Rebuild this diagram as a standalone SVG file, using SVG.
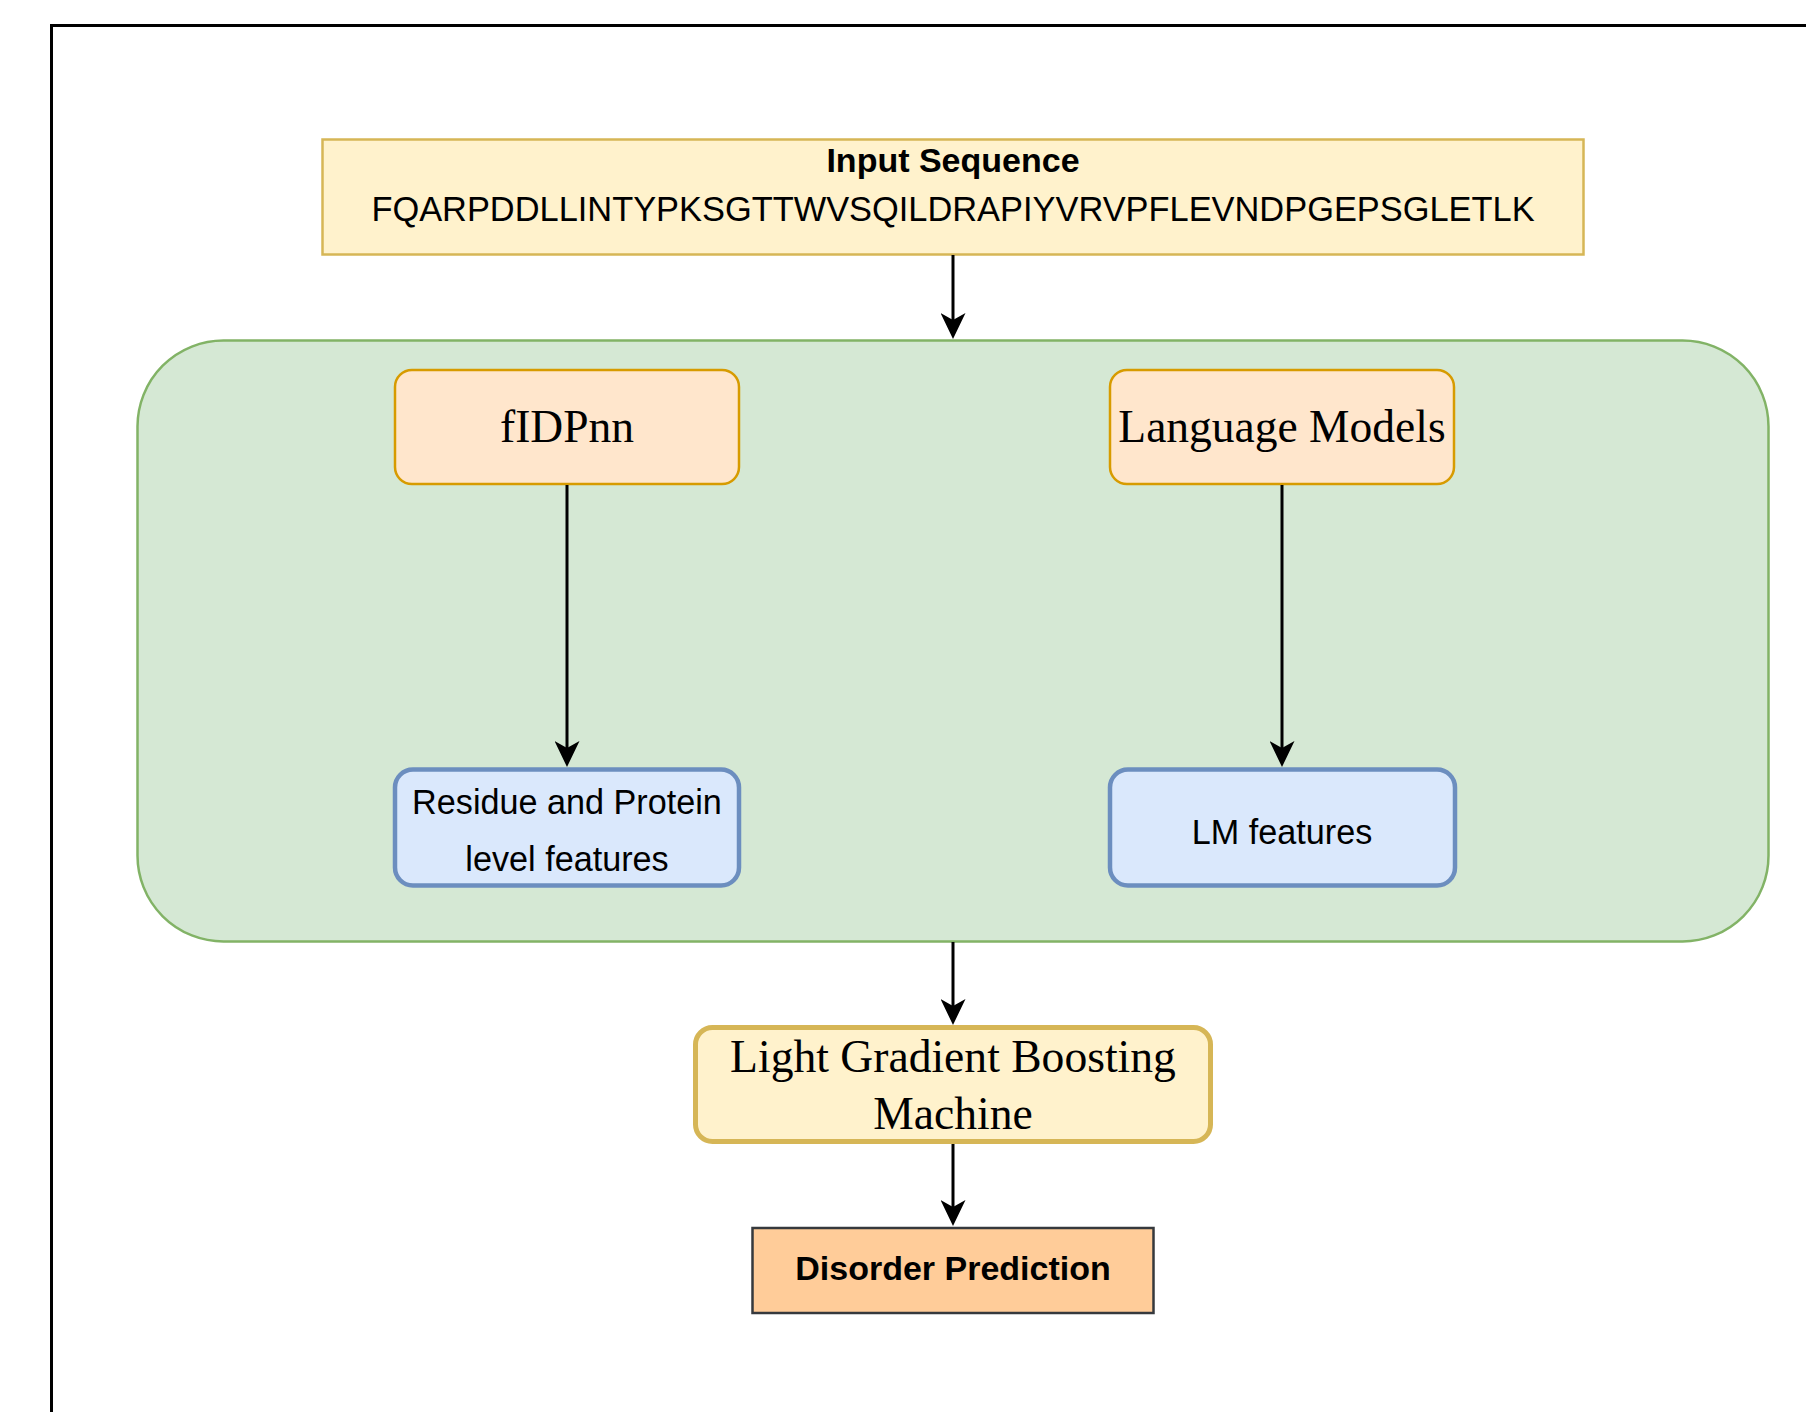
<svg xmlns="http://www.w3.org/2000/svg" width="1806" height="1412" viewBox="0 0 1806 1412">
  <style>
    .sans { font-family: "Liberation Sans", Arial, sans-serif; fill: #000; }
    .serif { font-family: "Liberation Serif", "Times New Roman", serif; fill: #000; }
    .bold { font-weight: bold; }
    .yellow { fill: #fff2cc; stroke: #d6b656; }
    .orange { fill: #ffe6cc; stroke: #d79b00; stroke-width: 2.5; }
    .blue { fill: #dae8fc; stroke: #6c8ebf; stroke-width: 4.5; }
    .edge { fill: none; stroke: #000; stroke-width: 3; marker-end: url(#arrow); }
  </style>
  <defs>
    <marker id="arrow" markerUnits="userSpaceOnUse" viewBox="0 0 26 25" markerWidth="26" markerHeight="25" refX="16" refY="12.5" orient="auto">
      <path d="M0,0 L26,12.5 L0,25 L7,12.5 Z" fill="#000"/>
    </marker>
  </defs>

  <rect width="1806" height="1412" fill="#ffffff"/>
  <!-- outer frame -->
  <rect x="51.5" y="25.5" width="1800" height="1500" fill="none" stroke="#000" stroke-width="3"/>

  <!-- feature extraction container -->
  <g id="feature-block">
    <rect x="137.5" y="340.5" width="1631" height="601" rx="86" ry="86" fill="#d5e8d4" stroke="#82b366" stroke-width="2.5"/>
  </g>

  <g id="input-sequence">
    <rect class="yellow" x="322.5" y="139.5" width="1261" height="115" stroke-width="2.5"/>
    <text class="sans bold" x="953" y="172" font-size="34" text-anchor="middle">Input Sequence</text>
    <text class="sans" x="953" y="221" font-size="34.4" text-anchor="middle">FQARPDDLLINTYPKSGTTWVSQILDRAPIYVRVPFLEVNDPGEPSGLETLK</text>
  </g>

  <g id="fidpnn">
    <rect class="orange" x="395" y="370" width="344" height="114" rx="17" ry="17"/>
    <text class="serif" x="567" y="442" font-size="45.5" text-anchor="middle">fIDPnn</text>
  </g>

  <g id="language-models">
    <rect class="orange" x="1110" y="370" width="344" height="114" rx="17" ry="17"/>
    <text class="serif" x="1282" y="442" font-size="45.5" text-anchor="middle">Language Models</text>
  </g>

  <g id="residue-protein-features">
    <rect class="blue" x="395" y="769.5" width="344" height="116" rx="18" ry="18"/>
    <text class="sans" x="567" y="814" font-size="34.2" text-anchor="middle">Residue and Protein</text>
    <text class="sans" x="567" y="871" font-size="34.2" text-anchor="middle">level features</text>
  </g>

  <g id="lm-features">
    <rect class="blue" x="1110" y="769.5" width="345" height="116" rx="18" ry="18"/>
    <text class="sans" x="1282" y="844" font-size="34.2" text-anchor="middle">LM features</text>
  </g>

  <g id="lgbm">
    <rect class="yellow" x="695.5" y="1027.5" width="515" height="114" rx="17" ry="17" stroke-width="5"/>
    <text class="serif" x="953" y="1072" font-size="45.6" text-anchor="middle">Light Gradient Boosting</text>
    <text class="serif" x="953" y="1129" font-size="45.6" text-anchor="middle">Machine</text>
  </g>

  <g id="disorder-prediction">
    <rect x="752.5" y="1228" width="401" height="85" fill="#ffcc99" stroke="#36393d" stroke-width="2.5"/>
    <text class="sans bold" x="953" y="1280" font-size="34" text-anchor="middle">Disorder Prediction</text>
  </g>

  <g id="connectors">
    <path class="edge" d="M953,255 L953,329"/>
    <path class="edge" d="M567,485 L567,757"/>
    <path class="edge" d="M1282,485 L1282,757"/>
    <path class="edge" d="M953,942 L953,1015"/>
    <path class="edge" d="M953,1144 L953,1216"/>
  </g>
</svg>
